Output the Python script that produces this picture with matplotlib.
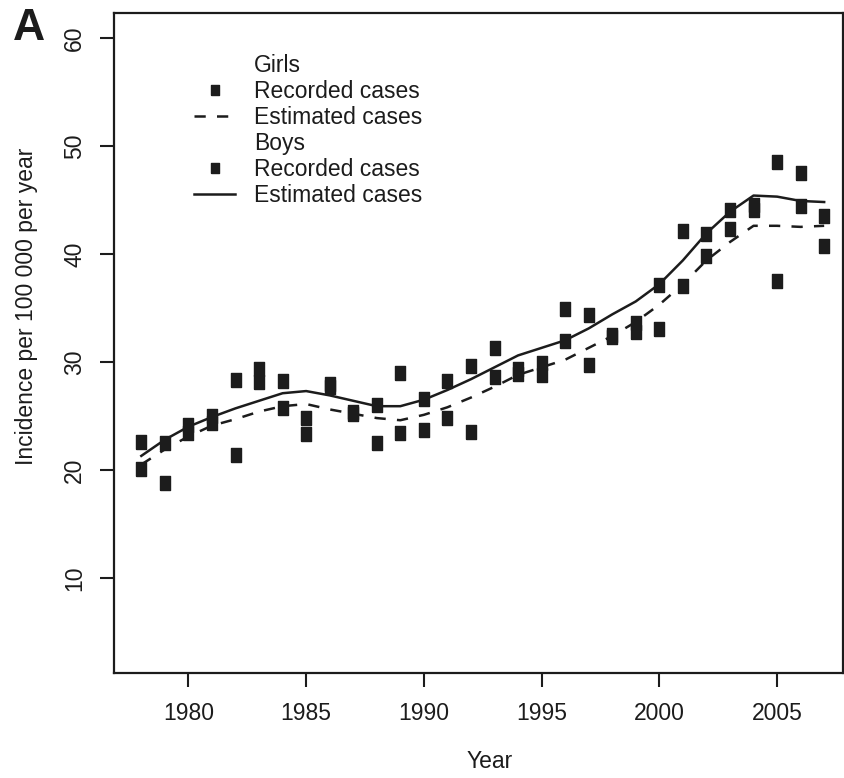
import matplotlib
matplotlib.use('Agg')
import matplotlib.pyplot as plt
from matplotlib.lines import Line2D
import numpy as np

plt.rcParams['font.family'] = ['Liberation Sans', 'DejaVu Sans']

years = np.arange(1978, 2008)

# recorded incidence
boys_recorded = [22.6, 22.5, 24.2, 25.0, 28.3, 29.3, 28.2, 24.8, 28.0, 25.4,
                 26.0, 29.0, 26.6, 28.2, 29.6, 31.3, 29.3, 29.9, 34.9, 34.3,
                 32.5, 33.6, 37.1, 42.1, 41.8, 44.1, 44.5, 48.5, 47.5, 43.5]
girls_recorded = [20.1, 18.8, 23.4, 24.3, 21.4, 28.1, 25.7, 23.3, 27.7, 25.2,
                  22.5, 23.4, 23.7, 24.8, 23.5, 28.6, 28.9, 28.8, 31.9, 29.7,
                  32.3, 32.8, 33.0, 37.0, 39.8, 42.3, 44.1, 37.5, 44.4, 40.7]

# estimated (smoothed) incidence
boys_estimated = [21.3, 22.8, 24.0, 24.9, 25.7, 26.4, 27.1, 27.3, 26.9, 26.4,
                  25.9, 25.9, 26.5, 27.4, 28.4, 29.5, 30.6, 31.3, 32.0, 33.1,
                  34.4, 35.6, 37.2, 39.4, 41.9, 43.9, 45.4, 45.3, 44.9, 44.8]
girls_estimated = [20.5, 21.9, 23.1, 24.1, 24.7, 25.4, 25.9, 26.1, 25.6, 25.2,
                   24.8, 24.6, 25.1, 25.8, 26.7, 27.7, 28.8, 29.5, 30.2, 31.3,
                   32.4, 33.7, 35.3, 37.2, 39.4, 41.1, 42.6, 42.6, 42.5, 42.6]

x_ticks = [1980, 1985, 1990, 1995, 2000, 2005]
y_ticks = [10, 20, 30, 40, 50, 60]

ink = '#1c1c1c'
sq = [(-0.4, -0.5), (0.4, -0.5), (0.4, 0.5), (-0.4, 0.5), (-0.4, -0.5)]

fig = plt.figure(figsize=(8.45, 7.78), dpi=100)
W, H = 845, 778
ax = fig.add_axes([114 / W, 1 - 673 / H, 729 / W, 660 / H])

ax.plot(years, girls_estimated, color=ink, lw=1.8, dashes=(4.5, 4.5))
ax.plot(years, boys_estimated, color=ink, lw=1.8)
ax.plot(years, girls_recorded, ls='none', marker=sq, ms=9.5, color=ink)
ax.plot(years, boys_recorded, ls='none', marker=sq, ms=9.5, color=ink)

ax.set_xlim(1976.84, 2007.8)
ax.set_ylim(1.2, 62.3)
ax.set_xticks(x_ticks)
ax.set_xticklabels([str(v) for v in x_ticks], fontsize=16.5, color=ink)
ax.set_yticks(y_ticks)
ax.set_yticklabels([str(v) for v in y_ticks], fontsize=16.5, color=ink,
                   rotation=90, va='center')
ax.tick_params(axis='both', direction='out', length=10, width=1.5, color=ink)
ax.tick_params(axis='x', pad=11)
ax.tick_params(axis='y', pad=10)
for s in ax.spines.values():
    s.set_linewidth(1.6)
    s.set_color(ink)

blank = Line2D([], [], ls='none')
handles = [blank,
           Line2D([], [], ls='none', marker=sq, ms=7.5, color=ink),
           Line2D([], [], color=ink, lw=1.8, dashes=(4.5, 4.5)),
           blank,
           Line2D([], [], ls='none', marker=sq, ms=7.5, color=ink),
           Line2D([], [], color=ink, lw=1.8)]
labels = ['Girls', 'Recorded cases', 'Estimated cases',
          'Boys', 'Recorded cases', 'Estimated cases']
leg = ax.legend(handles, labels, loc='upper left', bbox_to_anchor=(0.11, 0.938),
                frameon=False, fontsize=16.5, handlelength=1.8, handletextpad=0.8,
                labelspacing=0.13, borderpad=0, borderaxespad=0)
for t in leg.get_texts():
    t.set_color(ink)

fig.text(27 / W, 1 - 306 / H, 'Incidence per 100 000 per year', rotation=90,
         ha='center', va='center', fontsize=16.5, color=ink)
fig.text(490 / W, 1 - 762 / H, 'Year', ha='center', va='center',
         fontsize=16.5, color=ink)
fig.text(29 / W, 1 - 29 / H, 'A', ha='center', va='center',
         fontsize=32, fontweight='bold', color=ink)

fig.savefig('out.png', dpi=100)
